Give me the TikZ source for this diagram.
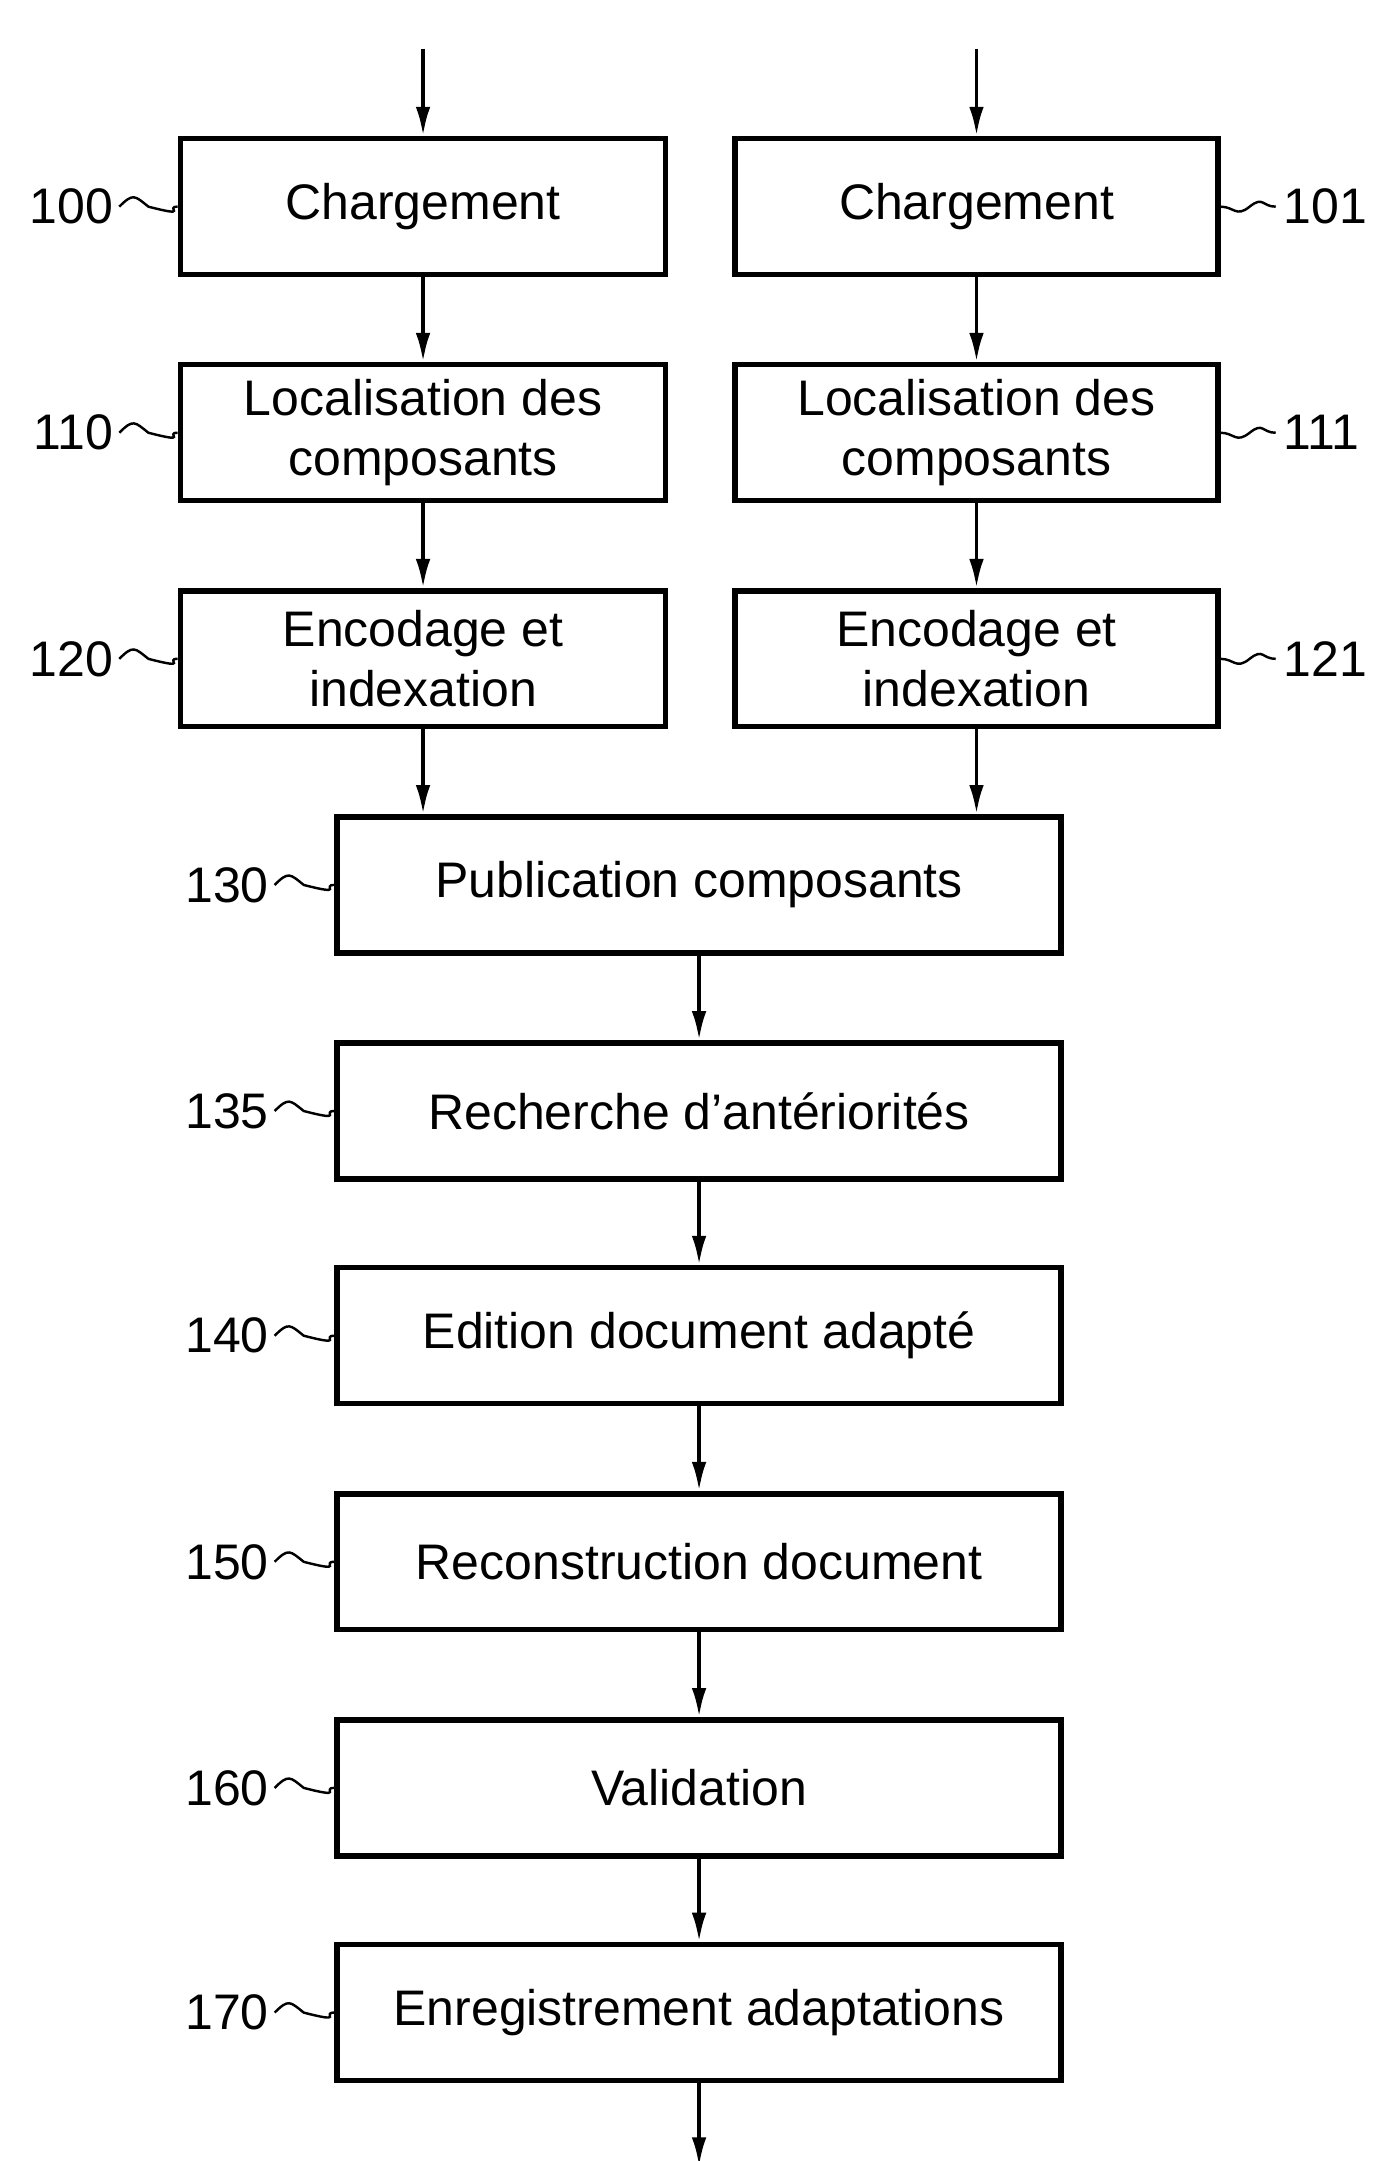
\documentclass[tikz,border=0pt]{standalone}
\usepackage{fontspec}
\setmainfont{Liberation Sans}
\usetikzlibrary{arrows.meta}
\begin{document}
\begin{tikzpicture}[x=0.02cm,y=-0.02cm,
  box/.style={draw,line width=2.2pt,minimum height=98*0.02cm,align=center,inner sep=0pt,font=\fontsize{20.5}{24.5}\selectfont},
  lb/.style={draw,line width=2.2pt,minimum width=350*0.02cm,minimum height=98*0.02cm},
  lbl/.style={font=\fontsize{20.5}{24.5}\selectfont,inner sep=0pt},
  arr/.style={line width=1.6pt,-{Latex[length=12pt,width=6pt]}},
  tl/.style={line width=1pt}]
\path[use as bounding box] (0,0) rectangle (1000,1558);
% left column
\foreach \n/\y/\t in {100/149/Chargement,110/312/{Localisation des\\composants},120/475/{Encodage et\\indexation}}{
  \node[box,minimum width=350*0.02cm] (b\n) at (305,\y) {\t};
  \node[lbl,anchor=east] (t\n) at (82,\y) {\n};
  \draw[tl] (t\n.east)++(4,0) .. controls +(10,-10) and +(-10,-8) .. +(21,0) .. controls +(31,8) and +(-10,0) .. (b\n.west);
}
\foreach \n/\y/\t in {101/149/Chargement,111/312/{Localisation des\\composants},121/475/{Encodage et\\indexation}}{
  \node[box,minimum width=348*0.02cm] (b\n) at (704,\y) {\t};
  \node[lbl,anchor=west] (t\n) at (925,\y) {\n};
  \draw[tl] (b\n.east) .. controls +(10,0) and +(-10,8) .. +(21,0) .. controls +(10,-8) and +(-10,0) .. ([xshift=-3pt]t\n.west);
}
\foreach \n/\y/\t in {130/638/Publication composants,135/801/Recherche d'antériorités,140/963/Edition document adapté,150/1126/Reconstruction document,160/1289/Validation,170/1451/Enregistrement adaptations}{
  \node[box,minimum width=522*0.02cm] (b\n) at (504,\y) {\t};
  \node[lbl,anchor=east] (t\n) at (194,\y) {\n};
  \draw[tl] (t\n.east)++(4,0) .. controls +(10,-10) and +(-10,-8) .. +(21,0) .. controls +(31,8) and +(-10,0) .. (b\n.west);
}
\coordinate (s1) at (305,35);
\coordinate (s2) at (704,35);
\coordinate (e) at (504,1562);
\draw[arr] (s1) -- (b100.north);
\draw[arr] (s2) -- (b101.north);
\draw[arr] (b100) -- (b110);
\draw[arr] (b110) -- (b120);
\draw[arr] (b101) -- (b111);
\draw[arr] (b111) -- (b121);
\draw[arr] (b120.south) -- (b120.south |- b130.north);
\draw[arr] (b121.south) -- (b121.south |- b130.north);
\draw[arr] (b130) -- (b135);
\draw[arr] (b135) -- (b140);
\draw[arr] (b140) -- (b150);
\draw[arr] (b150) -- (b160);
\draw[arr] (b160) -- (b170);
\draw[arr] (b170) -- (e);
\end{tikzpicture}
\end{document}
